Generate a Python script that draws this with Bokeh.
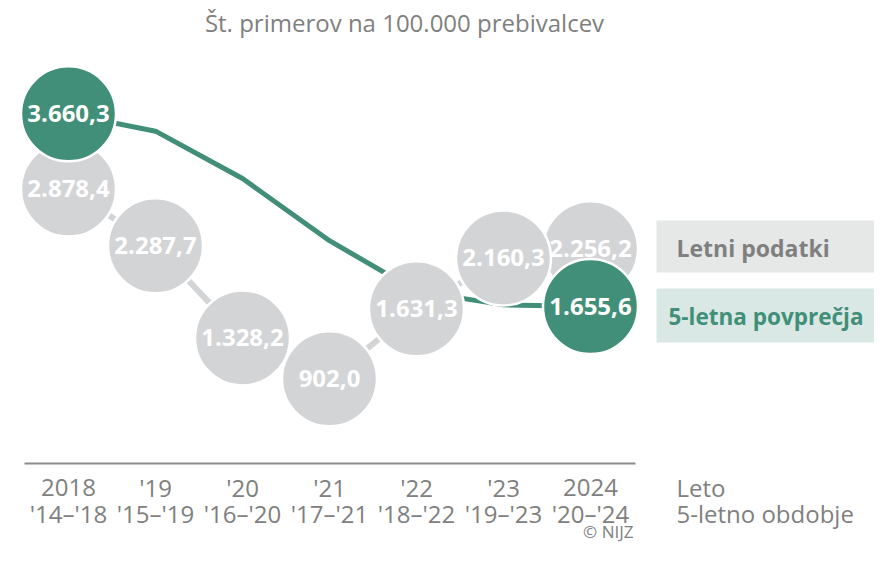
from bokeh.plotting import figure
from bokeh.models import Range1d, ColumnDataSource, Label
from bokeh.core.properties import value
from bokeh.embed import file_html
from bokeh.resources import INLINE

# ---------------- data ----------------
years = ["2018", "'19", "'20", "'21", "'22", "'23", "2024"]
periods = ["'14–'18", "'15–'19", "'16–'20", "'17–'21", "'18–'22", "'19–'23", "'20–'24"]
annual = [2878.4, 2287.7, 1328.2, 902.0, 1631.3, 2160.3, 2256.2]
avg5 = [3660.3, 3480.0, 2987.0, 2340.0, 1815.0, 1672.0, 1655.6]
title_text = "Št. primerov na 100.000 prebivalcev"
legend_annual = "Letni podatki"
legend_avg = "5-letna povprečja"
axis_row1 = "Leto"
axis_row2 = "5-letno obdobje"
credit = "© NIJZ"

GREEN = "#418f78"
GREY_C = "#d3d4d6"
TXT_GREY = "#808080"
FONT = value("Open Sans")

def fmt(v):
    s = f"{v:,.1f}"
    return s.replace(",", "X").replace(".", ",").replace("X", ".")

W, H = 874, 545
STEP = 87.0            # px per category
PXU = 0.09607          # px per unit
x0 = -68 / STEP
x1 = x0 + W / STEP
y1 = 465 / PXU
y0 = y1 - H / PXU

def X(px):
    return x0 + px / STEP

def Y(py):
    return y1 - py / PXU

p = figure(width=W, height=H, output_backend="svg", toolbar_location=None,
           x_range=Range1d(x0, x1), y_range=Range1d(y0, y1),
           min_border=0, outline_line_color=None)
p.axis.visible = False
p.grid.visible = False
p.background_fill_color = "white"
p.border_fill_color = "white"

idx = list(range(len(years)))
src = ColumnDataSource(dict(x=idx, annual=annual, avg=avg5,
                            alab=[fmt(v) for v in annual],
                            years=years, periods=periods))
# circles drawn last-to-first so earlier years sit on top
rsrc = ColumnDataSource(dict(x=idx[::-1], annual=annual[::-1]))

# baseline
p.segment(x0=[X(24)], y0=[Y(463)], x1=[X(635)], y1=[Y(463)], line_color="#8c8c8c", line_width=2)

# lines
p.line(x="x", y="annual", source=src, line_color=GREY_C, line_width=6)
p.line(x="x", y="avg", source=src, line_color=GREEN, line_width=5, line_join="round")

# grey circles
p.scatter(x="x", y="annual", source=rsrc, marker="circle", size=95,
          fill_color=GREY_C, line_color="white", line_width=2.5)

# green end circles
ends = [0, len(avg5) - 1]
gsrc = ColumnDataSource(dict(x=ends, y=[avg5[i] for i in ends],
                             lab=[fmt(avg5[i]) for i in ends]))
p.scatter(x="x", y="y", source=gsrc, marker="circle", size=95,
          fill_color=GREEN, line_color="white", line_width=2.5)

# circle labels
p.text(x="x", y="annual", text="alab", source=src, text_color="white",
       text_font=FONT, text_font_style="bold", text_font_size="24px",
       text_align="center", text_baseline="middle")
p.text(x="x", y="y", text="lab", source=gsrc, text_color="white",
       text_font=FONT, text_font_style="bold", text_font_size="24px",
       text_align="center", text_baseline="middle")

# category labels
ROW1, ROW2 = 487, 513
p.text(x="x", y=Y(ROW1), text="years", source=src, text_color=TXT_GREY,
       text_font=FONT, text_font_size="24px", text_align="center", text_baseline="middle")
p.text(x="x", y=Y(ROW2), text="periods", source=src, text_color=TXT_GREY,
       text_font=FONT, text_font_size="24px", text_align="center", text_baseline="middle")

# right side axis captions
p.add_layout(Label(x=X(676), y=Y(ROW1), text=axis_row1, text_color=TXT_GREY,
                   text_font="Open Sans", text_font_size="24px",
                   text_align="left", text_baseline="middle"))
p.add_layout(Label(x=X(676), y=Y(ROW2), text=axis_row2, text_color=TXT_GREY,
                   text_font="Open Sans", text_font_size="24px",
                   text_align="left", text_baseline="middle"))
p.add_layout(Label(x=X(633), y=Y(542), text=credit, text_color=TXT_GREY,
                   text_font="Open Sans", text_font_size="17px",
                   text_align="right", text_baseline="bottom"))

# legend boxes
p.quad(left=[X(656)], right=[X(900)], top=[Y(220)], bottom=[Y(272)],
       fill_color="#e6e7e7", line_color=None)
p.quad(left=[X(656)], right=[X(900)], top=[Y(288)], bottom=[Y(342)],
       fill_color="#d9e8e4", line_color=None)
p.add_layout(Label(x=X(676), y=Y(247), text=legend_annual, text_color="#7f7f7f",
                   text_font="Open Sans", text_font_style="bold", text_font_size="23px",
                   text_align="left", text_baseline="middle"))
p.add_layout(Label(x=X(668), y=Y(316), text=legend_avg, text_color=GREEN,
                   text_font="Open Sans", text_font_style="bold", text_font_size="22.5px",
                   text_align="left", text_baseline="middle"))

# title
p.add_layout(Label(x=X(404), y=Y(22), text=title_text, text_color=TXT_GREY,
                   text_font="Open Sans", text_font_size="24px",
                   text_align="center", text_baseline="middle"))

open("out.html", "w").write(file_html(p, INLINE))
